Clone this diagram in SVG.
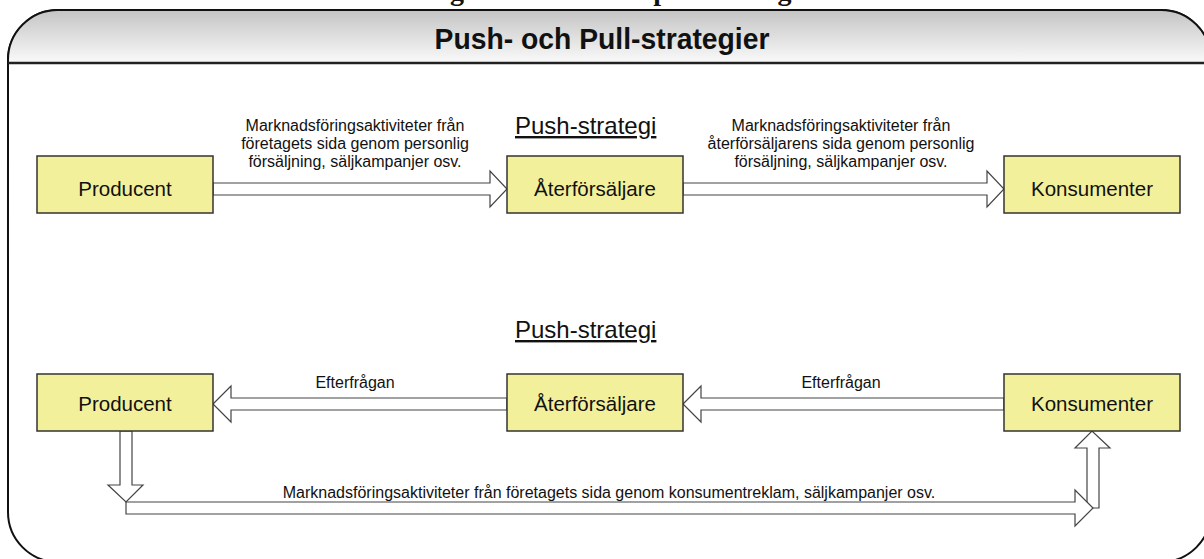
<svg xmlns="http://www.w3.org/2000/svg" width="1204" height="559" viewBox="0 0 1204 559">
<defs>
<linearGradient id="hdr" x1="0" y1="0" x2="0" y2="1">
<stop offset="0" stop-color="#c4c4c4"/>
<stop offset="1" stop-color="#fafafa"/>
</linearGradient>
<style>
.box{fill:#f3f09c;stroke:#333;stroke-width:1.5}
.btxt{font-family:"Liberation Sans",Arial,sans-serif;font-size:20.5px;fill:#111;text-anchor:middle}
.lbl{font-family:"Liberation Sans",Arial,sans-serif;font-size:16px;fill:#111;text-anchor:middle}
.strat{font-family:"Liberation Sans",Arial,sans-serif;font-size:24px;fill:#111}
.arr{fill:#fff;stroke:#444;stroke-width:1.2;stroke-linejoin:miter}
</style>
</defs>
<rect width="1204" height="559" fill="#fff"/>
<text x="425" y="0" font-family="'Liberation Serif',serif" font-weight="bold" font-size="28" fill="#111">Figur 4: Push- och pull-strategier</text>
<g id="frame">
<path d="M8,60 A50,50 0 0 1 58,10 L1161,10 A50,50 0 0 1 1211,60 L1211,512 A50,50 0 0 1 1161,562 L58,562 A50,50 0 0 1 8,512 Z" fill="#fff" stroke="#111" stroke-width="2"/>
<path d="M8,63 L8,60 A50,50 0 0 1 58,10 L1161,10 A50,50 0 0 1 1211,60 L1211,63 Z" fill="url(#hdr)" stroke="#111" stroke-width="2"/>
<line x1="8" y1="63" x2="1211" y2="63" stroke="#222" stroke-width="2.5"/>
<text x="602" y="49" font-family="'Liberation Sans',Arial,sans-serif" font-weight="bold" font-size="30" text-anchor="middle" fill="#111" textLength="335" lengthAdjust="spacingAndGlyphs">Push- och Pull-strategier</text>
</g>
<g id="connectors">
<polygon class="arr" points="213,183 490,183 490,171 507,189 490,207 490,195 213,195"/>
<polygon class="arr" points="683,183 987,183 987,171 1004,189 987,207 987,195 683,195"/>
<polygon class="arr" points="213,404 231,386 231,398 507,398 507,410 231,410 231,422"/>
<polygon class="arr" points="683,404 701,386 701,398 1004,398 1004,410 701,410 701,422"/>
<polygon class="arr" points="1087,508 1087,448 1075,448 1092,431 1110,448 1099,448 1099,508"/>
<polygon class="arr" points="126,502 1075,502 1075,490 1093,508 1075,526 1075,514 126,514"/>
<polygon class="arr" points="120,431 132,431 132,485 143,485 126,502 108,485 120,485"/>
</g>
<g id="labels">
<text class="lbl" x="355" y="131">Marknadsföringsaktiviteter från</text>
<text class="lbl" x="355" y="149">företagets sida genom personlig</text>
<text class="lbl" x="355" y="167">försäljning, säljkampanjer osv.</text>
<text class="lbl" x="841" y="131">Marknadsföringsaktiviteter från</text>
<text class="lbl" x="841" y="149">återförsäljarens sida genom personlig</text>
<text class="lbl" x="841" y="167">försäljning, säljkampanjer osv.</text>
<text class="lbl" x="355" y="388">Efterfrågan</text>
<text class="lbl" x="841" y="388">Efterfrågan</text>
<text class="lbl" x="609" y="498">Marknadsföringsaktiviteter från företagets sida genom konsumentreklam, säljkampanjer osv.</text>
<text class="strat" x="515" y="134" text-decoration="underline">Push-strategi</text>
<text class="strat" x="515" y="338" text-decoration="underline">Push-strategi</text>
</g>
<g id="producent1"><rect class="box" x="37" y="156" width="176" height="57"/><text class="btxt" x="125" y="196">Producent</text></g>
<g id="aterforsaljare1"><rect class="box" x="507" y="156" width="176" height="57"/><text class="btxt" x="595" y="196">Återförsäljare</text></g>
<g id="konsumenter1"><rect class="box" x="1004" y="156" width="176" height="57"/><text class="btxt" x="1092" y="196">Konsumenter</text></g>
<g id="producent2"><rect class="box" x="37" y="374" width="176" height="57"/><text class="btxt" x="125" y="411">Producent</text></g>
<g id="aterforsaljare2"><rect class="box" x="507" y="374" width="176" height="57"/><text class="btxt" x="595" y="411">Återförsäljare</text></g>
<g id="konsumenter2"><rect class="box" x="1004" y="374" width="176" height="57"/><text class="btxt" x="1092" y="411">Konsumenter</text></g>
</svg>
